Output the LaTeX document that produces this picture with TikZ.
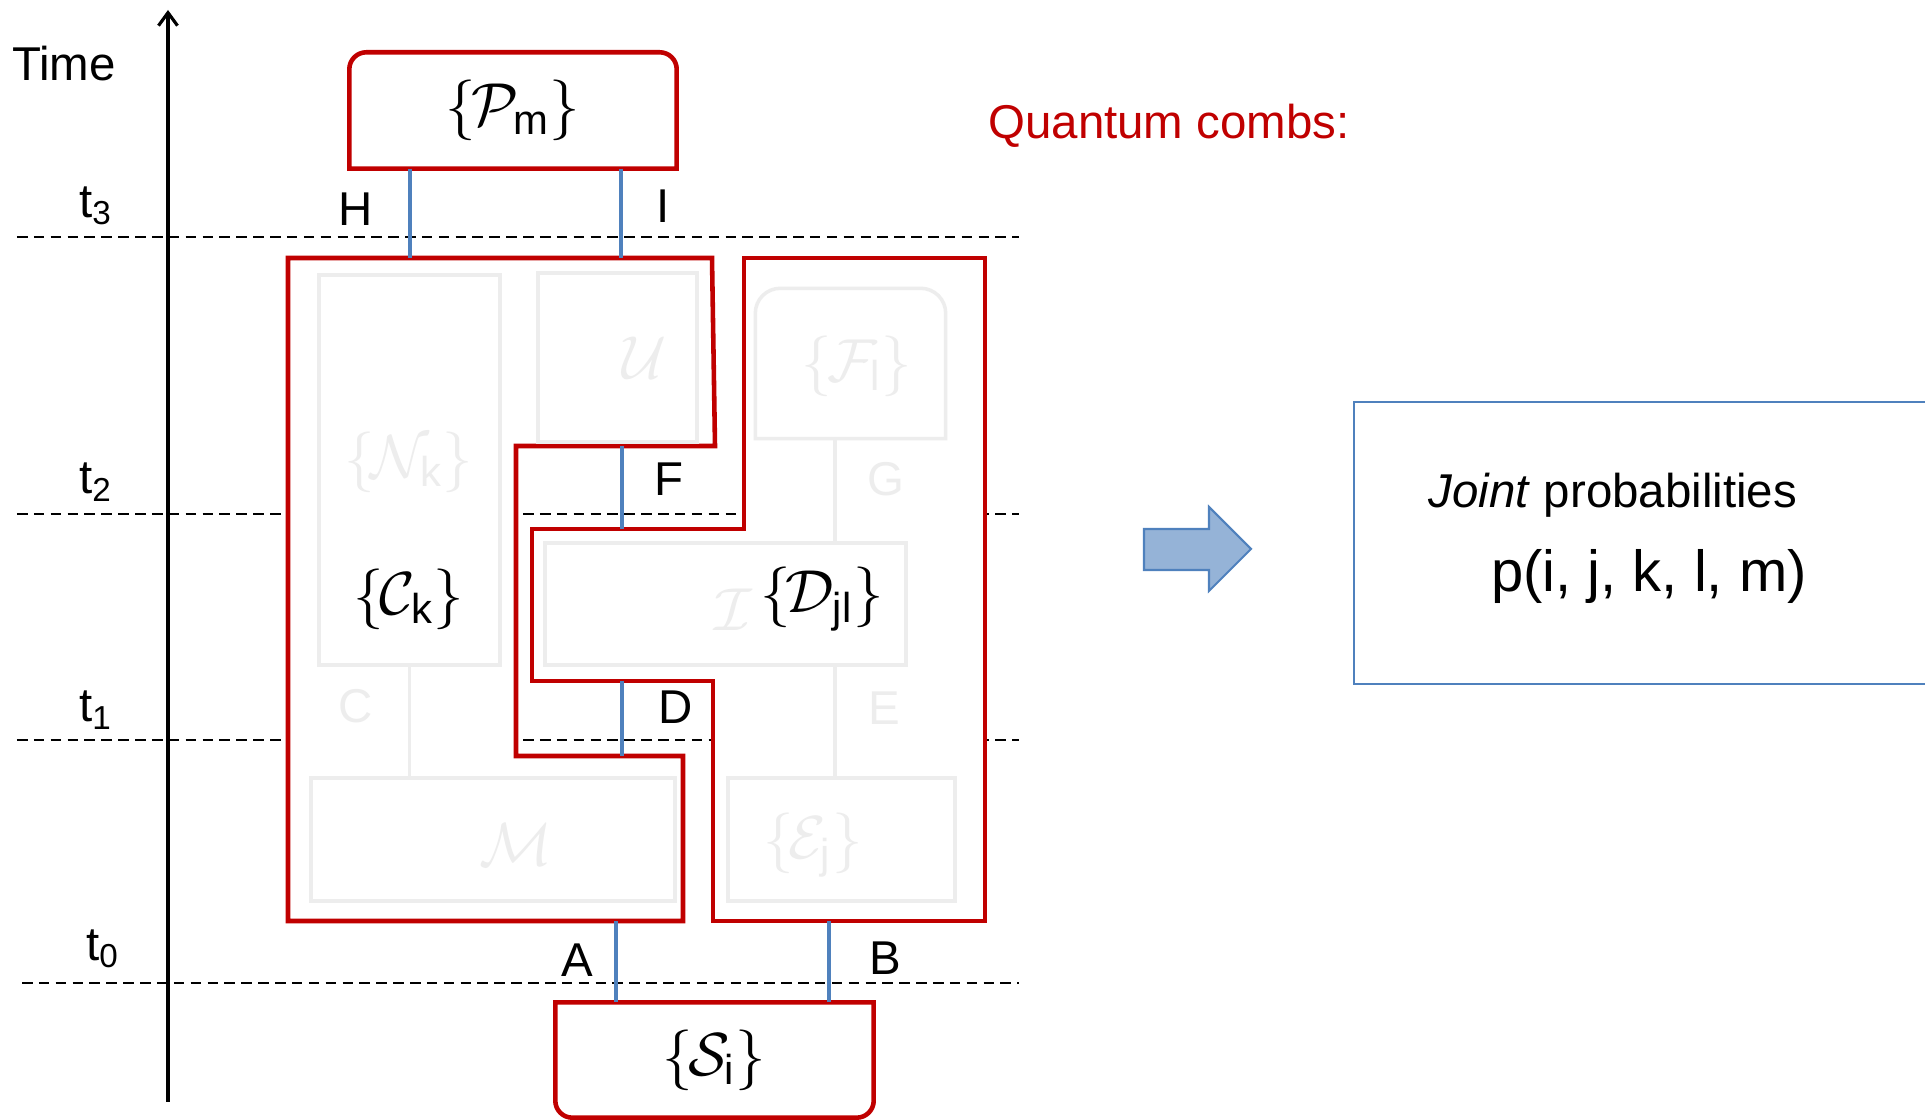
\documentclass[tikz,border=0pt]{standalone}
\usepackage{amsmath}
\usepackage{fontspec}
\setmainfont{Liberation Sans}
\usepackage{tikz}
\usetikzlibrary{arrows.meta, calc}

\definecolor{combred}{HTML}{C00000}
\definecolor{wireblue}{HTML}{4F81BD}
\definecolor{ghostgray}{HTML}{EDEDED}
\definecolor{arrowfill}{HTML}{95B3D7}
\newcommand{\lblfont}{\fontsize{13.5}{16}\selectfont}
\newcommand{\opfont}{\fontsize{17}{20}\selectfont}

\begin{document}
\begin{tikzpicture}[
  comb/.style={draw=combred, line width=1.3pt, fill=white},
  opbox/.style={draw=combred, line width=1.3pt},
  wire/.style={draw=wireblue, line width=1pt},
  tline/.style={dash pattern=on 3pt off 1.8pt, line width=0.6pt},
  ghost/.style={draw=ghostgray, line width=1pt},
  ghostbox/.style={ghost, rectangle, inner sep=0pt},
  ghosttext/.style={text=ghostgray, font=\opfont, inner sep=1pt},
  lbl/.style={font=\lblfont, inner sep=1pt},
  op/.style={font=\opfont, inner sep=1pt},
]
\useasboundingbox (0,0) rectangle (19.25,11.20);

% Time axis and the four time slices.
\node[lbl] (time) at (0.64,10.56) {Time};
\coordinate (axisLo) at (1.68,0.18);
\coordinate (axisHi) at (1.68,11.10);
\draw[line width=0.9pt, -{Straight Barb[length=1.3mm,width=1.9mm]}] (axisLo) -- (axisHi);
\foreach \i/\y/\xl in {3/8.83/0.17, 2/6.06/0.17, 1/3.80/0.17, 0/1.37/0.22} {
  \draw[tline] (\xl,\y) -- (10.19,\y);
}
\node[lbl] (t3) at (0.96,9.14) {t\textsubscript{3}};
\node[lbl] (t2) at (0.96,6.38) {t\textsubscript{2}};
\node[lbl] (t1) at (0.96,4.10) {t\textsubscript{1}};
\node[lbl] (t0) at (1.03,1.71) {t\textsubscript{0}};

% The two combs (opaque, drawn over the time slices).
\draw[comb] (2.88,8.62) -- (7.12,8.62) -- (7.15,6.74) -- (5.16,6.74) -- (5.16,3.64)
  -- (6.83,3.64) -- (6.83,1.99) -- (2.88,1.99) -- cycle;
\draw[comb] (7.44,8.62) -- (9.85,8.62) -- (9.85,1.99) -- (7.13,1.99) -- (7.13,4.39)
  -- (5.32,4.39) -- (5.32,5.91) -- (7.44,5.91) -- cycle;

% Faint inner circuit.
\node[ghostbox, minimum width=1.81cm, minimum height=3.90cm] (Nk) at (4.095,6.50) {};
\node[ghostbox, minimum width=1.59cm, minimum height=1.69cm] (U) at (6.175,7.625) {};
\node[inner sep=0pt, minimum width=1.89cm, minimum height=1.49cm] (Fl) at (8.505,7.565) {};
\draw[ghost] (Fl.south west) -- ([yshift=-0.25cm]Fl.north west)
  arc[start angle=180, end angle=90, radius=0.25cm] -- ([xshift=-0.25cm]Fl.north east)
  arc[start angle=90, end angle=0, radius=0.25cm] -- (Fl.south east) -- cycle;
\node[ghostbox, minimum width=3.61cm, minimum height=1.22cm] (Ibox) at (7.255,5.16) {};
\node[ghostbox, minimum width=3.64cm, minimum height=1.23cm] (M) at (4.93,2.805) {};
\node[ghostbox, minimum width=2.27cm, minimum height=1.23cm] (Ej) at (8.415,2.805) {};
\coordinate (gx) at (8.35,0);
\draw[ghost] (Nk.south) -- (M.north -| Nk.south);
\draw[ghost] (Fl.south -| gx) -- (Ibox.north -| gx);
\draw[ghost] (Ibox.south -| gx) -- (Ej.north -| gx);
\node[ghosttext] (NkText) at (4.09,6.58) {$\{\mkern-1.5mu\mathcal{N}_{\text{k}}\}$};
\node[ghosttext] (UText)  at (6.45,7.62) {$\mathcal{U}$};
\node[ghosttext] (FlText) at (8.57,7.54) {$\{\mkern-1.5mu\mathcal{F}_{\text{l}}\}$};
\node[ghosttext] (IText)  at (7.33,5.10) {$\mathcal{I}$};
\node[ghosttext] (MText)  at (5.16,2.75) {$\mathcal{M}$};
\node[ghosttext] (EjText) at (8.13,2.75) {$\{\mkern-1.5mu\mathcal{E}_{\text{j}}\}$};
\node[ghosttext, font=\lblfont] (G) at (8.86,6.41) {G};
\node[ghosttext, font=\lblfont] (C) at (3.56,4.14) {C};
\node[ghosttext, font=\lblfont] (E) at (8.84,4.12) {E};

% Comb labels.
\node[op] (Ck)  at (4.09,5.21) {$\{\mkern-1.5mu\mathcal{C}_{\text{k}}\}$};
\node[op] (Djl) at (8.22,5.21) {$\{\mkern-1.5mu\mathcal{D}_{\text{jl}}\}$};

% Preparation and final measurement.
\node[op, minimum width=3.26cm, minimum height=1.15cm] (P) at (5.13,10.095) {$\{\mkern-1.5mu\mathcal{P}_{\text{m}}\}$};
\draw[opbox] (P.south west) -- ([yshift=-0.17cm]P.north west)
  arc[start angle=180, end angle=90, radius=0.17cm] -- ([xshift=-0.17cm]P.north east)
  arc[start angle=90, end angle=0, radius=0.17cm] -- (P.south east) -- cycle;
\node[op, minimum width=3.17cm, minimum height=1.14cm] (S) at (7.145,0.60) {$\{\mkern-1.5mu\mathcal{S}_{\text{i}}\}$};
\draw[opbox] (S.north west) -- ([yshift=0.17cm]S.south west)
  arc[start angle=180, end angle=270, radius=0.17cm] -- ([xshift=-0.17cm]S.south east)
  arc[start angle=270, end angle=360, radius=0.17cm] -- (S.north east) -- cycle;

% Wires.
\coordinate (cH)  at (4.10,8.62);
\coordinate (cI)  at (6.21,8.62);
\coordinate (cF1) at (6.22,6.74);
\coordinate (cF2) at (6.22,5.91);
\coordinate (cD1) at (6.22,4.39);
\coordinate (cD2) at (6.22,3.64);
\coordinate (cA)  at (6.16,1.99);
\coordinate (cB)  at (8.29,1.99);
\draw[wire] (P.south -| cH) -- (cH);
\draw[wire] (P.south -| cI) -- (cI);
\draw[wire] (cF1) -- (cF2);
\draw[wire] (cD1) -- (cD2);
\draw[wire] (cA) -- (S.north -| cA);
\draw[wire] (cB) -- (S.north -| cB);
\node[lbl] (H) at (3.56,9.11) {H};
\node[lbl] (I) at (6.63,9.14) {I};
\node[lbl] (F) at (6.69,6.41) {F};
\node[lbl] (D) at (6.76,4.13) {D};
\node[lbl] (A) at (5.77,1.60) {A};
\node[lbl] (B) at (8.85,1.62) {B};

\node[lbl, text=combred] (qc) at (11.69,9.94) {Quantum combs:};

% Arrow to the result.
\draw[draw=wireblue, fill=arrowfill, line width=0.6pt]
  (11.44,5.91) -- (12.09,5.91) -- (12.09,6.13) -- (12.51,5.71)
  -- (12.09,5.29) -- (12.09,5.50) -- (11.44,5.50) -- cycle;
\draw[draw=wireblue, line width=0.7pt] (19.25,7.18) -- (13.54,7.18) -- (13.54,4.36) -- (19.25,4.36);
\node[lbl] (joint) at (16.13,6.25) {\textit{Joint} probabilities};
\node[font=\fontsize{16.5}{20}\selectfont, inner sep=1pt] (prob) at (16.49,5.43) {p(i, j, k, l, m)};

\end{tikzpicture}
\end{document}
